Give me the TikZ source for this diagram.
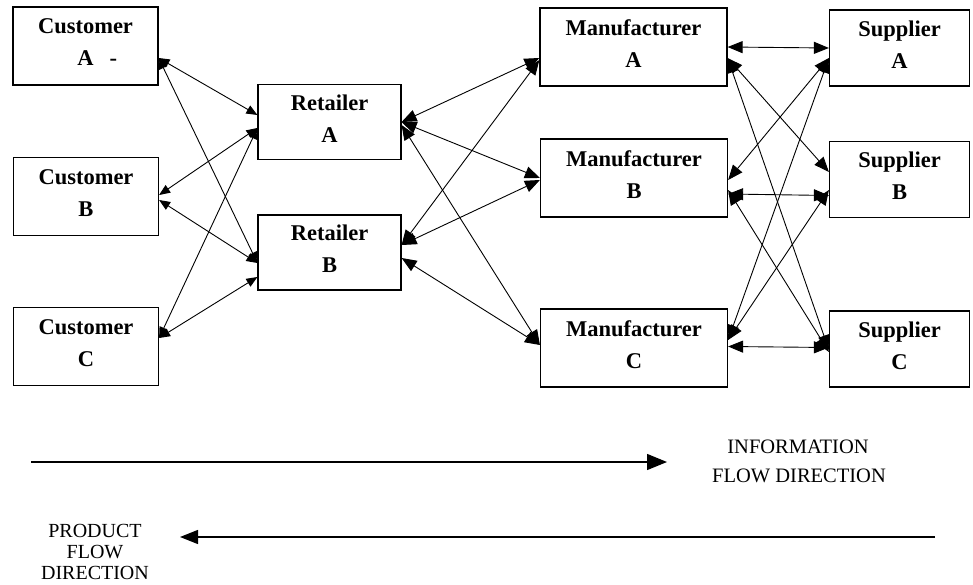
\documentclass[tikz,border=0pt]{standalone}
\usepackage{fontspec}
\setmainfont{Liberation Serif}
\usetikzlibrary{arrows.meta}
\begin{document}
\begin{tikzpicture}[x=1pt,y=-1pt,
  box/.style={draw,line width=1.2pt,inner sep=0pt,align=center,
    font=\bfseries\fontsize{22.5}{32}\selectfont,
    execute at end node={\rule[-7pt]{0pt}{7pt}}},
  cust/.style={box,minimum width=145pt,minimum height=78pt},
  ret/.style={box,minimum width=143pt,minimum height=75pt},
  man/.style={box,minimum width=187pt,minimum height=78pt},
  sup/.style={box,minimum width=140pt,minimum height=76pt},
  connS/.style={line width=0.9pt,{Triangle[length=11pt,width=9pt]}-{Triangle[length=11pt,width=9pt]}},
  connL/.style={line width=0.9pt,{Triangle[length=15pt,width=12pt]}-{Triangle[length=15pt,width=12pt]}},
  flow/.style={line width=1.4pt},
  flowtxt/.style={anchor=base,inner sep=0pt,font=\fontsize{20.5}{24}\selectfont},
  prodtxt/.style={anchor=base,inner sep=0pt,font=\fontsize{20}{21}\selectfont}
]
\useasboundingbox (0,0) rectangle (973,585);

% boxes
\node[cust] (ca) at (85.5,46) {Customer\\A\rlap{\hspace{16pt}-}};
\node[cust] (cb) at (86,196.5) {Customer\\B};
\node[cust] (cc) at (86,346.5) {Customer\\C};
\node[ret] (ra) at (329.5,122) {Retailer\\A};
\node[ret] (rb) at (329.5,252.5) {Retailer\\B};
\node[man] (ma) at (633.5,47) {Manufacturer\\A};
\node[man] (mb) at (634,178) {Manufacturer\\B};
\node[man] (mc) at (634,348) {Manufacturer\\C};
\node[sup] (sa) at (899.5,48) {Supplier\\A};
\node[sup] (sb) at (899.5,179.5) {Supplier\\B};
\node[sup] (sc) at (899.5,349) {Supplier\\C};

% customers - retailers
\draw[connS] ([yshift=-12pt]ca.east) -- ([yshift=7pt]ra.west);
\draw[connS] ([yshift=-12pt]ca.east) -- ([yshift=-10.5pt]rb.west);
\draw[connS] ([yshift=1.5pt]cb.east) -- ([yshift=-6pt]ra.west);
\draw[connS] ([yshift=-3.5pt]cb.east) -- ([yshift=-10.5pt]rb.west);
\draw[connS] ([yshift=8.5pt]cc.east) -- ([yshift=-6pt]ra.west);
\draw[connS] ([yshift=8.5pt]cc.east) -- ([yshift=-24.5pt]rb.west);

% retailers - manufacturers
\draw[connL] (ra.east) -- ([yshift=-11pt]ma.west);
\draw[connL] (ra.east) -- (mb.west);
\draw[connL] ([yshift=-3pt]ra.east) -- ([yshift=3pt]mc.west);
\draw[connL] ([yshift=7.5pt]rb.east) -- ([yshift=-13pt]ma.west);
\draw[connL] ([yshift=7.5pt]rb.east) -- ([yshift=-2pt]mb.west);
\draw[connL] ([yshift=-5.5pt]rb.east) -- ([yshift=3pt]mc.west);

% manufacturers - suppliers
\draw[connL] (ma.east) -- (sa.west);
\draw[connL] ([yshift=-11pt]ma.east) -- ([yshift=7.5pt]sb.west);
\draw[connL] ([yshift=-11pt]ma.east) -- ([yshift=-1pt]sc.west);
\draw[connL] ([yshift=-10pt]sa.west) -- ([yshift=-2pt]mb.east);
\draw[connL] ([yshift=-10pt]sa.west) -- ([yshift=8pt]mc.east);
\draw[connL] ([yshift=-16pt]mb.east) -- ([yshift=-16pt]sb.west);
\draw[connL] ([yshift=-12pt]mb.east) -- ([yshift=-3pt]sc.west);
\draw[connL] ([yshift=-10.5pt]sb.west) -- ([yshift=8pt]mc.east);
\draw[connL] ([yshift=1.5pt]mc.east) -- ([yshift=1.5pt]sc.west);

% flow directions
\coordinate (i0) at (31,462);
\coordinate (i1) at (667,462);
\draw[flow,-{Triangle[length=20pt,width=16pt]}] (i0) -- (i1);
\node[flowtxt] (it1) at (798,453) {INFORMATION};
\node[flowtxt] (it2) at (799,482) {FLOW DIRECTION};

\coordinate (p0) at (935,537);
\coordinate (p1) at (180,537);
\draw[flow,-{Triangle[length=18pt,width=14pt]}] (p0) -- (p1);
\node[prodtxt] (pt1) at (95,537) {PRODUCT};
\node[prodtxt] (pt2) at (95,558) {FLOW};
\node[prodtxt] (pt3) at (95,579) {DIRECTION};
\end{tikzpicture}
\end{document}
